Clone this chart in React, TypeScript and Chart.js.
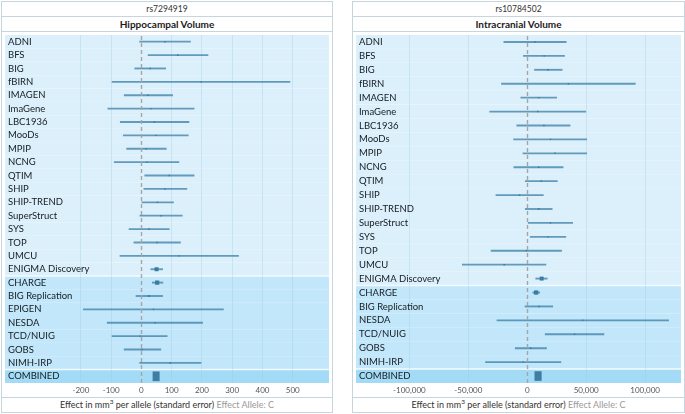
import React, { useEffect, useRef } from 'react';
import { Chart, registerables } from 'chart.js';

Chart.register(...registerables);

// ---------- Left panel: rs7294919 / Hippocampal Volume ----------
const hippoStudies = [
  'ADNI', 'BFS', 'BIG', 'fBIRN', 'IMAGEN', 'ImaGene', 'LBC1936', 'MooDs', 'MPIP', 'NCNG',
  'QTIM', 'SHIP', 'SHIP-TREND', 'SuperStruct', 'SYS', 'TOP', 'UMCU', 'ENIGMA Discovery',
  'CHARGE', 'BIG Replication', 'EPIGEN', 'NESDA', 'TCD/NUIG', 'GOBS', 'NIMH-IRP', 'COMBINED',
];
const hippoEffect = [78, 120, 29, 197, 22, 31, 43, 48, 16, 18, 92, 78, 53, 65, 25, 52, 125, 50, 52, 25, 40, 45, -5, 2, 95, 49];
const hippoLower = [-6, 22, -22, -97, -57, -111, -70, -60, -49, -90, 11, 8, 0, -5, -41, -25, -71, 31, 36, -18, -192, -113, -97, -57, -6, 38];
const hippoUpper = [162, 220, 80, 491, 103, 174, 157, 155, 82, 124, 174, 150, 106, 135, 92, 129, 321, 70, 71, 70, 271, 202, 85, 64, 197, 59];
const hippoTicks = [-200, -100, 0, 100, 200, 300, 400, 500];

// ---------- Right panel: rs10784502 / Intracranial Volume ----------
const icvStudies = [
  'ADNI', 'BFS', 'BIG', 'fBIRN', 'IMAGEN', 'ImaGene', 'LBC1936', 'MooDs', 'MPIP', 'NCNG',
  'QTIM', 'SHIP', 'SHIP-TREND', 'SuperStruct', 'SYS', 'TOP', 'UMCU', 'ENIGMA Discovery',
  'CHARGE', 'BIG Replication', 'NESDA', 'TCD/NUIG', 'GOBS', 'NIMH-IRP', 'COMBINED',
];
const icvEffect = [6600, 14400, 17700, 34900, 9700, 8900, 14100, 19700, 23500, 9700, 11900, -6600, 9700, 19700, 17700, -800, -19600, 12200, 7500, 10000, 47000, 40100, 3000, -3500, 9100];
const icvLower = [-19900, -3300, 6100, -21900, -5500, -31900, -8900, -11600, -3600, -11400, -1700, -26600, -1700, 800, 2500, -30700, -55100, 7200, 4700, -1900, -25700, 15200, -10200, -35400, 6400];
const icvUpper = [33000, 31600, 29600, 91600, 24900, 49600, 36300, 50400, 50400, 30400, 25500, 13600, 21100, 38500, 32700, 29100, 15800, 16900, 10500, 21600, 119900, 65000, 16300, 28500, 11900];
const icvTicks = [-100000, -50000, 0, 50000, 100000];

const DISCOVERY_LAST = 'ENIGMA Discovery';
const COMBINED = 'COMBINED';

const FONT = "Lato, 'DejaVu Sans', sans-serif";
const BORDER = '#c9d5dc';

type PanelProps = {
  left: number;
  width: number;
  snp: string;
  trait: string;
  studies: string[];
  effect: number[];
  lower: number[];
  upper: number[];
  ticks: number[];
  min: number;
  max: number;
  sizeFactor: number;
};

function ForestPanel(p: PanelProps) {
  const ref = useRef<HTMLCanvasElement | null>(null);
  const innerW = p.width - 2;
  const rowsH = 351;
  const axisH = 14;

  useEffect(() => {
    if (!ref.current) return;
    const n = p.studies.length;
    const discEnd = p.studies.indexOf(DISCOVERY_LAST);
    const combIdx = p.studies.indexOf(COMBINED);

    const ciData = p.studies.map((s, i) => (s === COMBINED ? null : [p.lower[i], p.upper[i]]));
    const boxData = p.studies.map((s, i) => (s === COMBINED ? [p.lower[i], p.upper[i]] : null));
    const pointData = p.studies.map((s, i) => (s === COMBINED ? null : p.effect[i]));
    const radii = p.studies.map((s, i) =>
      Math.max(1, Math.min(3, p.sizeFactor / (p.upper[i] - p.lower[i])))
    );

    const rowBg = {
      id: 'rowBg',
      beforeDraw(chart: any) {
        const ctx = chart.ctx;
        const y = chart.scales.y;
        const area = chart.chartArea;
        const band = (y.bottom - y.top) / n;
        ctx.save();
        for (let i = 0; i < n; i++) {
          const c = y.getPixelForValue(i);
          ctx.fillStyle = i <= discEnd ? '#dcf0fc' : i === combIdx ? '#a3dbf7' : '#c2e6fa';
          ctx.fillRect(area.left, c - band / 2, area.right - area.left, band);
        }
        ctx.strokeStyle = '#f4fbff';
        ctx.lineWidth = 1.5;
        [discEnd, combIdx - 1].forEach((i) => {
          const yy = y.getPixelForValue(i) + band / 2;
          ctx.beginPath();
          ctx.moveTo(area.left, yy);
          ctx.lineTo(area.right, yy);
          ctx.stroke();
        });
        ctx.restore();
      },
    };

    const zeroLine = {
      id: 'zeroLine',
      afterDatasetsDraw(chart: any) {
        const ctx = chart.ctx;
        const x = chart.scales.x.getPixelForValue(0);
        const area = chart.chartArea;
        ctx.save();
        ctx.strokeStyle = '#a2a6a8';
        ctx.lineWidth = 1.4;
        ctx.setLineDash([4, 3]);
        ctx.beginPath();
        ctx.moveTo(Math.round(x) + 0.5, area.top + 1);
        ctx.lineTo(Math.round(x) + 0.5, area.bottom);
        ctx.stroke();
        ctx.restore();
      },
    };

    const chart = new Chart(ref.current, {
      type: 'bar',
      data: {
        labels: p.studies,
        datasets: [
          {
            type: 'bar',
            data: ciData as any,
            backgroundColor: 'rgba(64,130,168,0.78)',
            barThickness: 1.2,
            grouped: false,
            order: 3,
          } as any,
          {
            type: 'bar',
            data: boxData as any,
            backgroundColor: '#3f7ea2',
            barThickness: 9,
            grouped: false,
            order: 2,
          } as any,
          {
            type: 'line',
            data: pointData as any,
            showLine: false,
            pointStyle: 'rect',
            pointRadius: radii,
            pointHoverRadius: radii,
            pointBackgroundColor: '#3b7ba0',
            pointBorderColor: '#3b7ba0',
            pointBorderWidth: 0,
            order: 1,
          } as any,
        ],
      },
      options: {
        indexAxis: 'y',
        responsive: false,
        animation: false,
        events: [],
        layout: { padding: 0 },
        plugins: { legend: { display: false }, tooltip: { enabled: false } },
        scales: {
          x: {
            type: 'linear',
            min: p.min,
            max: p.max,
            afterBuildTicks: (scale: any) => {
              scale.ticks = p.ticks.map((v) => ({ value: v }));
            },
            afterFit: (scale: any) => {
              scale.height = axisH;
              scale.paddingLeft = 0;
              scale.paddingRight = 0;
            },
            grid: {
              color: (c: any) => (c.tick && c.tick.value === 0 ? 'rgba(0,0,0,0)' : 'rgba(150,198,224,0.3)'),
              lineWidth: 1,
              drawTicks: false,
            },
            border: { display: false },
            ticks: {
              padding: 3,
              color: '#555',
              font: { family: FONT, size: 8 },
              callback: (v: any) => Number(v).toLocaleString('en-US'),
            },
          },
          y: {
            type: 'category',
            afterFit: (scale: any) => {
              scale.width = 0;
              scale.paddingTop = 0;
              scale.paddingBottom = 0;
            },
            grid: { display: false, drawTicks: false },
            border: { display: false },
            ticks: {
              mirror: true,
              autoSkip: false,
              padding: 3,
              color: '#141c20',
              font: { family: FONT, size: 9.5 },
            },
          },
        },
      } as any,
      plugins: [rowBg, zeroLine],
    });
    return () => chart.destroy();
  }, []);

  const headerStyle: React.CSSProperties = {
    height: 14,
    lineHeight: '14px',
    textAlign: 'center',
    background: '#fff',
    fontFamily: FONT,
    color: '#333',
    whiteSpace: 'nowrap',
  };

  return (
    <div
      style={{
        position: 'absolute',
        left: p.left,
        top: 1,
        width: p.width,
        boxSizing: 'border-box',
        border: `1px solid ${BORDER}`,
        background: '#fff',
      }}
    >
      <div style={{ ...headerStyle, fontSize: 8.5, borderBottom: `1px solid ${BORDER}` }}>{p.snp}</div>
      <div style={{ ...headerStyle, fontSize: 10, fontWeight: 700, color: '#1c1c1c', borderBottom: `1px solid ${BORDER}` }}>
        {p.trait}
      </div>
      <div style={{ height: rowsH + axisH, width: innerW }}>
        <canvas ref={ref} width={innerW} height={rowsH + axisH} style={{ display: 'block' }} />
      </div>
      <div style={{ ...headerStyle, fontSize: 9, borderTop: `1px solid ${BORDER}`, color: '#333' }}>
        Effect in mm<sup style={{ fontSize: 6.5, lineHeight: 0 }}>3</sup> per allele (standard error){' '}
        <span style={{ color: '#9a9a9a' }}>Effect Allele: C</span>
      </div>
    </div>
  );
}

export default function App() {
  useEffect(() => {
    document.body.style.margin = '0';
    document.body.style.overflow = 'hidden';
    document.body.style.background = '#fff';
  }, []);
  return (
    <div style={{ position: 'relative', width: 685, height: 414, overflow: 'hidden', background: '#fff' }}>
      <ForestPanel
        left={1}
        width={332}
        snp="rs7294919"
        trait="Hippocampal Volume"
        studies={hippoStudies}
        effect={hippoEffect}
        lower={hippoLower}
        upper={hippoUpper}
        ticks={hippoTicks}
        min={-451}
        max={620}
        sizeFactor={110}
      />
      <ForestPanel
        left={352}
        width={333}
        snp="rs10784502"
        trait="Intracranial Volume"
        studies={icvStudies}
        effect={icvEffect}
        lower={icvLower}
        upper={icvUpper}
        ticks={icvTicks}
        min={-145300}
        max={130400}
        sizeFactor={27000}
      />
    </div>
  );
}
